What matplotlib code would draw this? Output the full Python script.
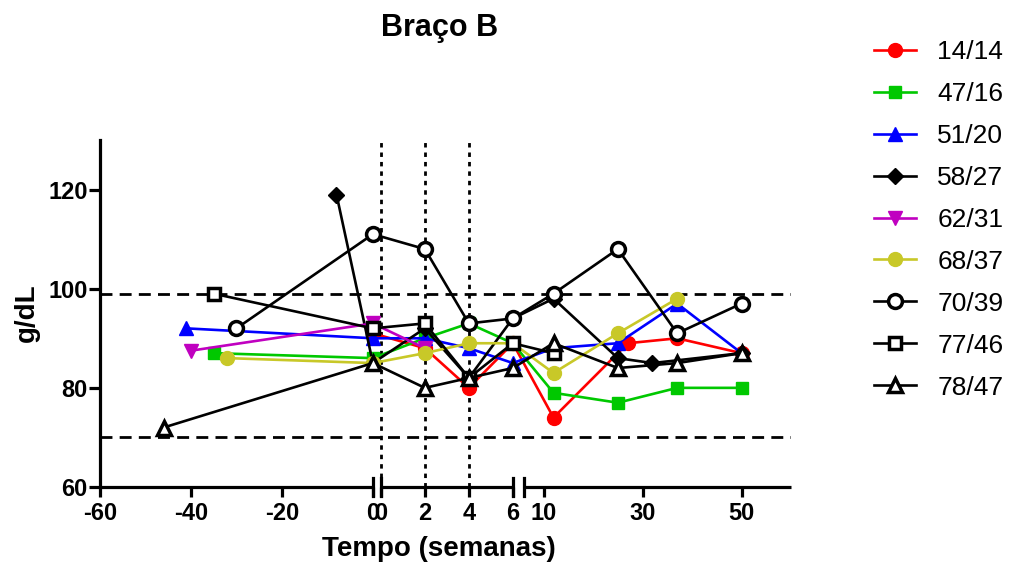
import numpy as np
import matplotlib
matplotlib.use('Agg')
import matplotlib.pyplot as plt

plt.rcParams['font.family'] = ['Liberation Sans', 'DejaVu Sans']

# data: weeks and values per patient
labels = ['14/14', '47/16', '51/20', '58/27', '62/31', '68/37', '70/39', '77/46', '78/47']

x_1414 = [0, 2, 4, 6, 12, 27, 37, 50]
y_1414 = [91, 88, 80, 89, 74, 89, 90, 87]
x_4716 = [-35, 0, 2, 4, 6, 12, 25, 37, 50]
y_4716 = [87, 86, 90, 93, 89, 79, 77, 80, 80]
x_5120 = [-41, 0, 2, 4, 6, 12, 25, 37, 50]
y_5120 = [92, 90, 90, 88, 85, 88, 89, 97, 87]
x_5827 = [-8, 0, 2, 4, 6, 12, 25, 32, 50]
y_5827 = [119, 85, 92, 82, 94, 98, 86, 85, 87]
x_6231 = [-40, 0, 2]
y_6231 = [87.5, 93, 88]
x_6837 = [-32, 0, 2, 4, 6, 12, 25, 37]
y_6837 = [86, 85, 87, 89, 89, 83, 91, 98]
x_7039 = [-30, 0, 2, 4, 6, 12, 25, 37, 50]
y_7039 = [92, 111, 108, 93, 94, 99, 108, 91, 97]
x_7746 = [-35, 0, 2, 4, 6, 12]
y_7746 = [99, 92, 93, 82, 89, 87]
x_7847 = [-46, 0, 2, 4, 6, 12, 25, 37, 50]
y_7847 = [72, 85, 80, 82, 84, 89, 84, 85, 87]

ref_lines = [99, 70]
eps = 1e-6
week_marks = [eps, 2, 4]
tick_pos = [-60, -40, -20, 0, eps, 2, 4, 6, 10, 30, 50]
tick_lab = ['-60', '-40', '-20', '0', '0', '2', '4', '6', '10', '30', '50']


# broken x axis: three linear pieces
def fwd(x):
    x = np.asarray(x, dtype=float)
    return np.where(x <= 0, 100 + (x + 60) * 4.55,
                    np.where(x <= 6, 381 + x * 22.0, 524 + (x - 6) * 4.95))


def inv(u):
    u = np.asarray(u, dtype=float)
    return np.where(u <= 377, (u - 100) / 4.55 - 60,
                    np.where(u <= 518.5, (u - 381) / 22.0, 6 + (u - 524) / 4.95))


fig = plt.figure(figsize=(10.14, 5.69), dpi=100)
ax = fig.add_axes([100 / 1014, 1 - 487 / 569, 691 / 1014, 347 / 569])
ax.set_xscale('function', functions=(fwd, inv))
ax.set_xlim(-60, 60)
ax.set_ylim(60, 130)

lw = 1.9
ms = 10
series = [
    (x_1414, y_1414, dict(color='#ff0000', marker='o', mfc='#ff0000', mec='#ff0000')),
    (x_4716, y_4716, dict(color='#00c800', marker='s', mfc='#00c800', mec='#00c800', ms=9)),
    (x_5120, y_5120, dict(color='#0000ff', marker='^', mfc='#0000ff', mec='#0000ff')),
    (x_5827, y_5827, dict(color='black', marker='D', mfc='black', mec='black', ms=8)),
    (x_6231, y_6231, dict(color='#c000c0', marker='v', mfc='#c000c0', mec='#c000c0')),
    (x_6837, y_6837, dict(color='#c8c828', marker='o', mfc='#c8c828', mec='#c8c828')),
    (x_7039, y_7039, dict(color='black', marker='o', mfc='white', mec='black', mew=2.5)),
    (x_7746, y_7746, dict(color='black', marker='s', mfc='white', mec='black', mew=2.5, ms=9)),
    (x_7847, y_7847, dict(color='black', marker='^', mfc='white', mec='black', mew=2.5)),
]
for (xs, ys, st), lab in zip(series, labels):
    kw = dict(lw=lw, ms=ms)
    kw.update(st)
    ax.plot(xs, ys, label=lab, clip_on=False, **kw)

# reference lines
for r in ref_lines:
    ax.axhline(r, color='black', lw=2, ls=(0, (4.3, 2.6)), zorder=0.5)
for w in week_marks:
    ax.axvline(w, color='black', lw=2, ls=(0, (1.6, 1.8)), zorder=0.5)

# axes styling
for s in ['top', 'right', 'bottom']:
    ax.spines[s].set_visible(False)
ax.spines['left'].set_linewidth(2.3)
ax.set_yticks([60, 80, 100, 120])
ax.tick_params(axis='y', length=8, width=2.3, pad=1, labelsize=17)
ax.set_xticks(tick_pos)
ax.set_xticklabels(tick_lab)
ax.tick_params(axis='x', length=7, width=2.3, pad=4, labelsize=17)
for t in ax.get_xticklabels() + ax.get_yticklabels():
    t.set_fontweight('bold')

# x axis drawn in three pieces with break marks
tr = ax.get_xaxis_transform()
for a, b in [(-60, 0), (eps, 6), (6 + eps, 60)]:
    ax.plot([a, b], [0, 0], color='black', lw=2.3, transform=tr, clip_on=False,
            solid_capstyle='butt')
for b in [0, eps, 6, 6 + eps]:
    ax.plot([b, b], [-0.027, 0.027], color='black', lw=2.3, transform=tr, clip_on=False)

ax.set_xlabel('Tempo (semanas)', fontsize=20, fontweight='bold')
ax.xaxis.set_label_coords((439 - 100) / 691, -(536 - 487) / 347)
ax.xaxis.label.set_va('top')
ax.set_ylabel('g/dL', fontsize=20, fontweight='bold')
ax.yaxis.set_label_coords((40 - 100) / 691, (487 - 313) / 347)

fig.text(440 / 1014, 1 - 28 / 569, 'Braço B', ha='center', va='center',
         fontsize=22, fontweight='bold')

fig.legend(loc='upper left', bbox_to_anchor=(874 / 1014, 1 - 40 / 569),
           frameon=False, fontsize=19, handlelength=1.6, handletextpad=0.8,
           labelspacing=0.68, borderpad=0, borderaxespad=0)

fig.savefig('out.png', dpi=100)
